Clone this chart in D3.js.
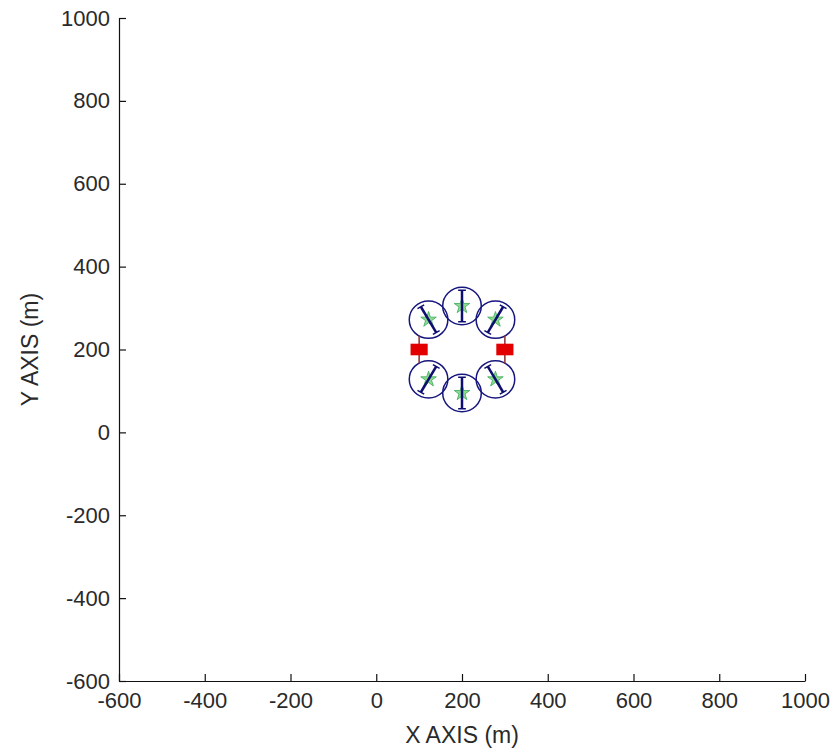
<!DOCTYPE html>
<html>
<head>
<meta charset="utf-8">
<script src="https://cdn.jsdelivr.net/npm/d3@7"></script>
<style>
  body { margin: 0; background: #fff; }
  svg text { font-family: "Liberation Sans", Arial, sans-serif; fill: #2a2a2a; }
</style>
</head>
<body>
<svg width="835" height="755"></svg>
<script>
var svg = d3.select("svg"),
    width = +svg.attr("width"),
    height = +svg.attr("height");

var margin = {top: 18, right: 30, bottom: 74, left: 119};

// axis ticks
var xTicks = [-600, -400, -200, 0, 200, 400, 600, 800, 1000];
var yTicks = [-600, -400, -200, 0, 200, 400, 600, 800, 1000];

// nodes (circle + star + line), data units
var nodeX = [200, 122, 278, 122, 200, 278];
var nodeY = [305, 272, 272, 128, 95, 128];
var nodeR = [45, 45, 45, 45, 45, 45];
var lineAngle = [0, -30, 30, 30, 0, -30];   // degrees from vertical, top end
var lineHalf = [38, 36, 36, 36, 38, 36];

// red blocks
var blockX = [100, 300];
var blockY = [200, 200];

var x = d3.scaleLinear().domain([-600, 1000]).range([margin.left, width - margin.right]);
var y = d3.scaleLinear().domain([-600, 1000]).range([height - margin.bottom, margin.top]);

var fmt = function(d) { return String(d); };

// axes, ticks pointing inward, no box
var xAxis = d3.axisBottom(x).tickValues(xTicks).tickFormat(fmt)
    .tickSizeInner(-7).tickSizeOuter(0).tickPadding(11);
var yAxis = d3.axisLeft(y).tickValues(yTicks).tickFormat(fmt)
    .tickSizeInner(-7).tickSizeOuter(0).tickPadding(9);

var gx = svg.append("g")
    .attr("transform", "translate(0," + (height - margin.bottom) + ")")
    .call(xAxis);
var gy = svg.append("g")
    .attr("transform", "translate(" + margin.left + ",0)")
    .call(yAxis);

[gx, gy].forEach(function(g) {
  g.selectAll("path, line").attr("stroke", "#111").attr("stroke-width", 1.2);
  g.selectAll("text").style("font-size", "22px").attr("fill", "#2a2a2a");
});

svg.append("text")
    .attr("x", (margin.left + width - margin.right) / 2)
    .attr("y", 743)
    .attr("text-anchor", "middle")
    .style("font-size", "23px")
    .text("X AXIS (m)");

svg.append("text")
    .attr("transform", "translate(38," + ((margin.top + height - margin.bottom) / 2) + ") rotate(-90)")
    .attr("text-anchor", "middle")
    .style("font-size", "23px")
    .text("Y AXIS (m)");

// nodes
var nodes = nodeX.map(function(d, i) {
  return {x: d, y: nodeY[i], r: nodeR[i], a: lineAngle[i], h: lineHalf[i]};
});

var gn = svg.append("g").attr("class", "nodes");

gn.selectAll("ellipse")
  .data(nodes)
  .enter().append("ellipse")
    .attr("cx", function(d) { return x(d.x); })
    .attr("cy", function(d) { return y(d.y); })
    .attr("rx", function(d) { return x(d.r) - x(0); })
    .attr("ry", function(d) { return y(0) - y(d.r); })
    .attr("fill", "none")
    .attr("stroke", "#16167e")
    .attr("stroke-width", 1.5);

gn.selectAll("path.star")
  .data(nodes)
  .enter().append("path")
    .attr("class", "star")
    .attr("d", d3.symbol().type(d3.symbolStar).size(75))
    .attr("transform", function(d) { return "translate(" + x(d.x) + "," + y(d.y) + ")"; })
    .attr("fill", "#8fdc8f")
    .attr("stroke", "#3aa85a")
    .attr("stroke-width", 0.8);

// line through each node, with small caps at the ends
function ends(d) {
  var t = d.a * Math.PI / 180;
  var dx = d.h * Math.sin(t), dy = d.h * Math.cos(t);
  return [[d.x + dx, d.y + dy], [d.x - dx, d.y - dy]];
}

gn.selectAll("line.rod")
  .data(nodes)
  .enter().append("line")
    .attr("class", "rod")
    .attr("x1", function(d) { return x(ends(d)[0][0]); })
    .attr("y1", function(d) { return y(ends(d)[0][1]); })
    .attr("x2", function(d) { return x(ends(d)[1][0]); })
    .attr("y2", function(d) { return y(ends(d)[1][1]); })
    .attr("stroke", "#0e0e70")
    .attr("stroke-width", 2.5);

var caps = [];
nodes.forEach(function(d) {
  var t = d.a * Math.PI / 180, c = 9;
  ends(d).forEach(function(e) {
    caps.push({x: e[0], y: e[1], cx: c * Math.cos(t), cy: -c * Math.sin(t)});
  });
});

gn.selectAll("line.cap")
  .data(caps)
  .enter().append("line")
    .attr("class", "cap")
    .attr("x1", function(d) { return x(d.x - d.cx); })
    .attr("y1", function(d) { return y(d.y - d.cy); })
    .attr("x2", function(d) { return x(d.x + d.cx); })
    .attr("y2", function(d) { return y(d.y + d.cy); })
    .attr("stroke", "#0e0e70")
    .attr("stroke-width", 1.5);

// red blocks with stem
var blocks = blockX.map(function(d, i) { return {x: d, y: blockY[i]}; });
var gb = svg.append("g").attr("class", "blocks");

gb.selectAll("line")
  .data(blocks)
  .enter().append("line")
    .attr("x1", function(d) { return x(d.x); })
    .attr("x2", function(d) { return x(d.x); })
    .attr("y1", function(d) { return y(d.y + 34); })
    .attr("y2", function(d) { return y(d.y - 34); })
    .attr("stroke", "#8a3030")
    .attr("stroke-width", 1.5);

gb.selectAll("rect")
  .data(blocks)
  .enter().append("rect")
    .attr("x", function(d) { return x(d.x - 20); })
    .attr("y", function(d) { return y(d.y + 14); })
    .attr("width", function(d) { return x(d.x + 20) - x(d.x - 20); })
    .attr("height", function(d) { return y(d.y - 14) - y(d.y + 14); })
    .attr("fill", "#e30000");
</script>
</body>
</html>
